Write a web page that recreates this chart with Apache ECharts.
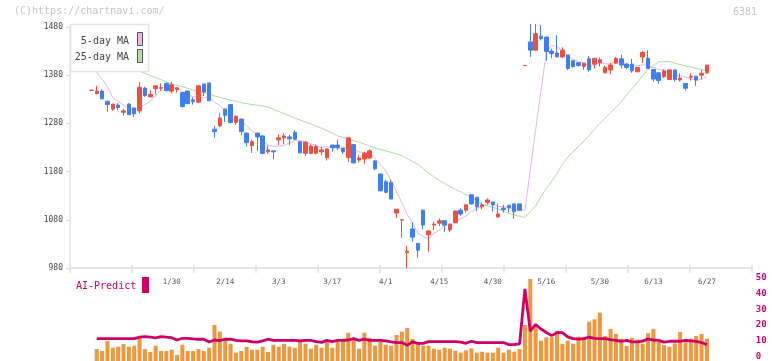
<!DOCTYPE html>
<html><head><meta charset="utf-8">
<script src="https://cdn.jsdelivr.net/npm/echarts@6/dist/echarts.min.js"></script>
<style>html,body{margin:0;padding:0;background:#fff}#c{width:772px;height:361px}</style>
</head><body><div id="c"></div>
<script>
const dates = ["1/8","1/9","1/10","1/14","1/15","1/16","1/17","1/20","1/21","1/22","1/23","1/24","1/27","1/28","1/29","1/30","1/31",
"2/3","2/4","2/5","2/6","2/7","2/10","2/12","2/13","2/14","2/17","2/18","2/19","2/20","2/21","2/25","2/26","2/27","2/28",
"3/3","3/4","3/5","3/6","3/7","3/10","3/11","3/12","3/13","3/14","3/17","3/18","3/19","3/21","3/24","3/25","3/26","3/27","3/28","3/31",
"4/1","4/2","4/3","4/4","4/7","4/8","4/9","4/10","4/11","4/14","4/15","4/16","4/17","4/18","4/21","4/22","4/23","4/24","4/25","4/28","4/30",
"5/1","5/2","5/7","5/8","5/9","5/12","5/13","5/14","5/15","5/16","5/19","5/20","5/21","5/22","5/23","5/26","5/27","5/28","5/29","5/30",
"6/2","6/3","6/4","6/5","6/6","6/9","6/10","6/11","6/12","6/13","6/16","6/17","6/18","6/19","6/20","6/23","6/24","6/25","6/26","6/27"];
const dateLabels = ["1/30","2/14","3/3","3/17","4/1","4/15","4/30","5/16","5/30","6/13","6/27"];

const open = [1348.5,1342,1347,1326,1310,1318,1303,1320,1312,1306, 1353,1335,1352,1353,1363,1347,1350,1344,1347,1329, 1324,1362,1364,1268,1275,1310,1319,1282,1289,1260, 1234,1260,1254,1221,1223,1246,1250,1252,1261,1242, 1218,1218,1218,1221,1209,1235,1235,1229,1209,1236, 1204,1206,1208,1202,1175,1159,1157,1094,1079.5,1012, 1061,1031,1100,1049,1069,1073,1078,1059,1074,1100, 1100,1132,1127,1107,1116,1117,1086,1104,1110,1113, 1113,1400,1449,1432,1461,1459,1430,1426,1418,1422, 1410,1406,1398,1414,1403,1406,1385,1391,1405,1414, 1403,1403,1387,1418,1415,1392,1385,1377,1371,1391, 1370,1363,1376,1378,1380,1385];
const high = [1349,1358,1351,1327,1320,1322,1310,1322,1312,1366, 1356,1349,1358,1363,1365,1366,1354,1344,1348,1334, 1358,1362,1364,1275,1301,1310,1320,1296,1289,1260, 1246,1260,1256,1234,1223,1257,1260,1256,1266,1243, 1243,1237,1236,1232,1228,1236,1246,1229,1250,1236, 1214,1221,1226,1204,1175,1163,1163,1102,1080,1026, 1075,1031,1100,1057,1076,1083,1078,1072,1099,1104, 1111,1132,1127,1116,1124,1117,1114,1111,1110,1113, 1113,1400,1486,1486,1484,1460,1435,1463,1438,1422, 1410,1407,1405,1420,1415,1417,1400,1406,1418,1422, 1405,1414,1397,1430,1432,1392,1386,1392,1391,1391, 1384,1363,1384,1378,1391,1401];
const low = [1348.5,1340,1331,1304,1306,1308,1296,1298,1293,1301, 1335,1335,1340,1348,1347,1342,1344,1313,1320,1319, 1322,1337,1327,1250,1272,1283,1280,1277,1255,1232, 1219,1223,1216,1217,1206,1235,1237,1235,1246,1218, 1212,1216,1216,1214,1203,1221,1225,1217,1200,1198, 1199,1196,1208,1183,1140,1136,1123,1084,1043,980, 1035,1001,1060,1014,1059,1067,1055,1055,1073,1088, 1095,1112,1098,1102,1112,1097,1085,1095,1095,1082, 1099,1400,1418,1431,1452,1410,1415,1418,1416,1391, 1395,1398,1391,1387,1394,1398,1385,1382,1403,1394, 1392,1385,1387,1405,1394,1367,1362,1374,1371,1367, 1367,1348,1369,1358,1371,1383];
const close = [1349,1347,1331,1319,1320,1313,1306,1298,1300,1355, 1338,1340,1358,1354,1348,1360,1354,1315,1321,1325, 1358,1345,1327,1263,1291,1297,1282,1295,1263,1240, 1242,1252,1218,1225,1221,1250,1254,1248,1247,1219, 1241,1233,1232,1225,1227,1230,1230,1221,1250,1198, 1208,1218,1223,1186,1140,1137,1123,1102,1080,1015, 1044,1017,1069,1057,1071,1078,1069,1071,1098,1092, 1111,1113,1107,1111,1121,1111,1092,1101,1105,1097, 1100,1400,1432,1466,1456,1429,1425,1418,1432,1394, 1398,1400,1405,1391,1415,1412,1396,1401,1415,1401, 1396,1389,1396,1427,1394,1372,1369,1389,1391,1371, 1374,1353,1378,1370,1384,1401];

const ma5 = [1398,1386,1372,1356,1333,1326,1318,1311,1307,1314, 1319,1326,1338,1349,1348,1352,1355,1346,1340,1335, 1335,1333,1335,1324,1317,1305,1292,1286,1286,1275, 1264,1258,1243,1235,1232,1233,1234,1240,1244,1244, 1242,1238,1234,1230,1232,1229,1229,1227,1232,1226, 1221,1219,1219,1207,1195,1181,1162,1138,1116,1091, 1073,1052,1045,1040,1052,1058,1069,1069,1077,1082, 1088,1097,1104,1107,1113,1113,1108,1107,1106,1101, 1099,1100,1183,1266,1349,1428,1442,1439,1432,1420, 1413,1408,1406,1398,1402,1405,1404,1403,1408,1405, 1402,1400,1399,1402,1400,1396,1392,1390,1383,1378, 1379,1376,1373,1369,1372,1377];
const ma25 = [1426,1422,1418,1413,1409,1405,1400,1396,1392,1388, 1384,1379,1375,1371,1366,1362,1359,1356,1353,1349, 1347,1344,1341,1337,1334,1331,1328,1326,1323,1321, 1319,1318,1316,1314,1309,1305,1300,1296,1291,1287, 1283,1279,1274,1270,1265,1260,1254,1251,1247,1244, 1241,1237,1233,1229,1226,1223,1220,1217,1213,1207, 1201,1195,1186,1177,1169,1162,1155,1149,1143,1138, 1132,1126,1119,1112,1109,1106,1102,1098,1093,1090, 1087,1085,1097,1109,1128,1145,1160,1176,1195,1210, 1221,1232,1243,1255,1268,1280,1291,1302,1313,1325, 1339,1352,1365,1379,1392,1400,1408,1408,1408,1405, 1402,1399,1397,1394,1392,1390];

const volume = [null,7.2,6,12,8,8.6,10.2,8.6,9.2,14, 7.2,5.4,9.2,6,6,6.8,3.6,9.8,6,6, 7.2,6,8,21.7,17.7,14,10.4,5,6,8.6, 6.8,6.8,8.6,5.4,9.8,8.6,10.4,8.6,8,12.9, 10.4,7.4,9.8,8,11.6,8,11.6,12.9,17,12.9, 7.4,17,14,9.2,11.6,9.8,9.2,15.7,17.7,20, 13.4,11.4,9.2,9.2,7.4,6.8,8,7.4,6.2,5, 6.4,7.6,5,5.6,5,5,8,5,6.8,5.6, 7.2,21.7,49.4,20.3,12.2,14.3,14.3,18.3,10.4,12.2, 10.4,14.7,14.3,23.7,25.1,29.1,15.1,19.3,16.3,13.4, 9,13.9,12.9,10.4,16.7,19.3,11.6,9.6,8.6,10.6, 17.5,11.2,13.4,15.1,16.3,13.4];
const aiPredict = [null,11.4,11.4,11.4,11.4,11.4,11.4,11.4,11.4,12.3, 12.7,12.3,11.9,12.7,12.3,12,10.5,11.6,11.6,11.2, 11,11,9.2,10.5,10.1,11,11,10.3,9.9,9.9, 9.4,9.2,10,11,10.3,10.3,10.3,10.3,10.3,10, 10.3,10.3,9.5,9,10.3,9.5,10.3,10.3,10.5,11.4, 10.3,11,10.3,10.3,10.3,9.9,9.3,8.9,8.9,7.1, 9.3,8.4,8.4,9.5,9.5,9.5,9.5,9.5,9.5,9.2, 8.4,9.7,8.8,8.8,8.8,8.8,8.8,8.9,7.6,7.6, 8,43,16.2,20.4,17.5,15.3,13.3,15.2,15.2,12.5, 11.4,11,11.4,12.3,11.6,11.4,11.4,10.8,10.3,9.7, 10.3,9.3,9.3,9.8,11.2,10.5,10.3,9.2,9.7,9.7, 9.7,10.3,10,9.7,8.9,7.6];

const PAD_L = 4, PAD_R = 8;
const cats = [];
for (let i = 0; i < PAD_L; i++) cats.push('_a' + i);
dates.forEach(d => cats.push(d));
for (let i = 0; i < PAD_R; i++) cats.push('_b' + i);

const SLOT = 615.5 / 115;
const plotW = SLOT * (cats.length - 1);
const mono = 'DejaVu Sans Mono';

const candleData = dates.map((d, k) => [k + PAD_L, open[k], close[k], low[k], high[k]]);
const toXY = arr => arr.map((v, k) => [k + PAD_L, v == null ? '-' : v]);

const chart = echarts.init(document.getElementById('c'), null, {renderer: 'canvas'});
const catAxis = (grid, show) => ({
  type: 'category', gridIndex: grid, data: cats, boundaryGap: false,
  axisLine: {show: false}, axisTick: {show: false}, splitLine: {show: false},
  axisLabel: show ? {
    show: true, interval: (i, v) => dateLabels.indexOf(v) >= 0,
    color: '#555', fontSize: 7.5, fontFamily: mono, margin: 10
  } : {show: false}
});
const tickAxis = (grid, inside, len, line) => ({
  type: 'value', gridIndex: grid, min: 0, max: 11, interval: 1,
  axisLine: {show: line, lineStyle: {color: '#e4e4e4', width: 2}},
  axisTick: {show: true, inside: inside, length: len, lineStyle: {color: '#e0e0e0', width: 1.5}},
  axisLabel: {show: false}, splitLine: {show: false}
});

chart.setOption({
  animation: false,
  backgroundColor: '#fff',
  grid: [
    {left: 70, top: 27, width: plotW, height: 241},
    {left: 70, top: 27, width: 682, height: 241},
    {left: 70, top: 278, width: plotW, height: 79.3},
    {left: 70, top: 278, width: plotW, height: 83},
    {left: 70, top: 27, width: 682, height: 241}
  ],
  xAxis: [
    catAxis(0, true),
    tickAxis(1, false, 5, true),
    catAxis(2, false),
    catAxis(3, false),
    tickAxis(4, true, 3, false)
  ],
  yAxis: [
    {type: 'value', gridIndex: 0, min: 980, max: 1480, interval: 100,
      axisLine: {show: true, lineStyle: {color: '#e4e4e4', width: 1.5}},
      axisTick: {show: true, length: 4, lineStyle: {color: '#d8d8d8'}},
      axisLabel: {color: '#444', fontSize: 8, fontFamily: mono, margin: 7, formatter: v => String(v)},
      splitLine: {show: false}},
    {type: 'value', gridIndex: 1, show: false, min: 0, max: 1},
    {type: 'value', gridIndex: 2, position: 'right', min: 0, max: 50, interval: 10,
      axisLine: {show: false}, axisTick: {show: false}, splitLine: {show: false},
      axisLabel: {color: '#cc0066', fontSize: 9, fontFamily: mono, fontWeight: 'bold', margin: 6, formatter: v => String(v)}},
    {type: 'value', gridIndex: 3, show: false, min: 0, max: 50},
    {type: 'value', gridIndex: 4, show: false, min: 0, max: 1}
  ],
  series: [
    {type: 'bar', xAxisIndex: 3, yAxisIndex: 3, data: toXY(volume), barWidth: 4,
      itemStyle: {color: '#f0963c'}, z: 1},
    {type: 'line', xAxisIndex: 2, yAxisIndex: 2, data: toXY(aiPredict), showSymbol: false, symbol: 'none',
      lineStyle: {color: '#cc0066', width: 2.8}, z: 3},
    {type: 'line', xAxisIndex: 0, yAxisIndex: 0, data: toXY(ma25), symbol: 'none',
      lineStyle: {color: '#b0d8a4', width: 1}, z: 1},
    {type: 'line', xAxisIndex: 0, yAxisIndex: 0, data: toXY(ma5), symbol: 'none',
      lineStyle: {color: '#e8b4ec', width: 1}, z: 1},
    {type: 'candlestick', xAxisIndex: 0, yAxisIndex: 0, data: candleData, clip: false,
      encode: {x: 0, y: [1, 2, 3, 4]}, barWidth: 4,
      itemStyle: {color: '#f04e3e', color0: '#3f7ff0', borderColor: '#f04e3e', borderColor0: '#3f7ff0', borderWidth: 1},
      z: 2}
  ],
  graphic: [
    {type: 'text', left: 14, top: 6, z: 100, style: {text: '(C)https://chartnavi.com/', font: '10px "DejaVu Sans Mono"', fill: '#c4c4c4'}},
    {type: 'text', x: 757, y: 12, z: 100, style: {text: '6381', font: '10px "DejaVu Sans Mono"', fill: '#c4c4c4', textAlign: 'right', textVerticalAlign: 'middle'}},
    {type: 'rect', z: 100, shape: {x: 70.5, y: 24.5, width: 78, height: 47}, style: {fill: '#fff', stroke: '#e2e2e2', lineWidth: 1.5}},
    {type: 'text', x: 129, y: 41, z: 101, style: {text: '5-day MA', font: '10px "DejaVu Sans Mono"', fill: '#444', textAlign: 'right', textVerticalAlign: 'middle'}},
    {type: 'text', x: 129, y: 57, z: 101, style: {text: '25-day MA', font: '10px "DejaVu Sans Mono"', fill: '#444', textAlign: 'right', textVerticalAlign: 'middle'}},
    {type: 'rect', z: 101, shape: {x: 137.5, y: 32.5, width: 5, height: 13}, style: {fill: '#ecb6ec', stroke: '#555', lineWidth: 1}},
    {type: 'rect', z: 101, shape: {x: 137.5, y: 49.5, width: 5, height: 13}, style: {fill: '#b6dcae', stroke: '#555', lineWidth: 1}},
    {type: 'text', x: 76, y: 286, z: 100, style: {text: 'AI-Predict', font: '10px "DejaVu Sans Mono"', fill: '#cc0066', textVerticalAlign: 'middle'}},
    {type: 'rect', z: 100, shape: {x: 142, y: 277, width: 7, height: 16}, style: {fill: '#cc0066'}}
  ]
});
</script></body></html>
